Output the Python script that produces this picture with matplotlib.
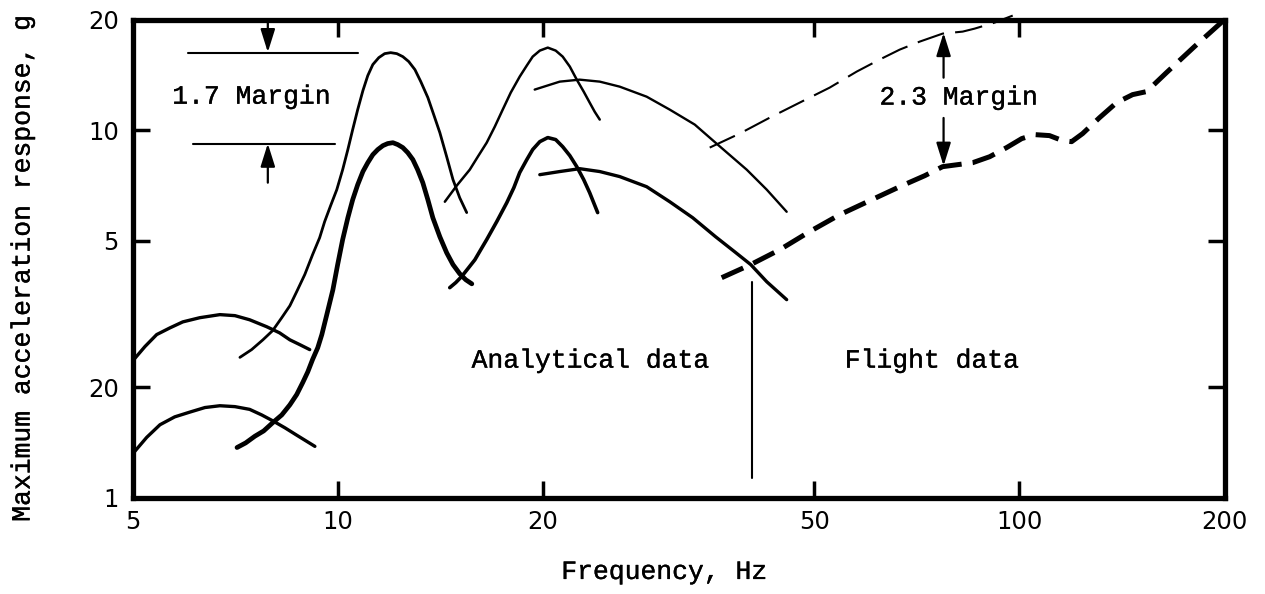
### Bibliotecas ###
import numpy as np
import matplotlib.pyplot as plt
import matplotlib.patheffects as pe

plt.rcParams['lines.scale_dashes'] = False
plt.rcParams['lines.solid_joinstyle'] = 'round'
plt.rcParams['lines.solid_capstyle'] = 'round'

### Dados: frequencia (Hz) e resposta maxima (g) ###
# arcos a esquerda (5-9 Hz)
arco_sup_x = [5.02, 5.21, 5.42, 5.67, 5.92, 6.27, 6.71, 7.06, 7.42, 7.86, 8.21, 8.50, 8.79, 9.09]
arco_sup_y = [2.38, 2.58, 2.78, 2.90, 3.01, 3.09, 3.15, 3.13, 3.05, 2.92, 2.81, 2.69, 2.61, 2.53]
arco_inf_x = [5.02, 5.24, 5.48, 5.76, 6.06, 6.38, 6.71, 7.06, 7.42, 7.73, 8.02, 8.36, 8.70, 9.25]
arco_inf_y = [1.33, 1.46, 1.58, 1.66, 1.71, 1.76, 1.78, 1.77, 1.74, 1.68, 1.62, 1.55, 1.48, 1.38]

# primeiro pico (~12 Hz)
pico1_sup_x = [7.18, 7.47, 7.76, 8.02, 8.27, 8.50, 8.70, 8.94, 9.18, 9.40, 9.56, 9.76, 9.96,
               10.16, 10.34, 10.51, 10.69, 10.88, 11.06, 11.25, 11.48, 11.71, 11.95, 12.20,
               12.45, 12.70, 12.97, 13.23, 13.55, 13.82, 14.11, 14.44, 14.75, 15.09, 15.45]
pico1_sup_y = [2.41, 2.53, 2.69, 2.85, 3.09, 3.33, 3.64, 4.05, 4.59, 5.10, 5.64, 6.25, 6.89,
               7.81, 8.86, 10.04, 11.38, 12.82, 14.08, 15.09, 15.76, 16.16, 16.26, 16.16,
               15.86, 15.38, 14.62, 13.56, 12.27, 11.03, 9.85, 8.47, 7.34, 6.55, 5.97]
pico1_inf_x = [7.11, 7.32, 7.55, 7.78, 8.02, 8.27, 8.50, 8.70, 8.88, 9.03, 9.18, 9.34, 9.47,
               9.63, 9.83, 9.99, 10.16, 10.34, 10.51, 10.69, 10.88, 11.06, 11.25, 11.44,
               11.64, 11.83, 12.04, 12.24, 12.45, 12.66, 12.88, 13.09, 13.32, 13.55, 13.78,
               14.11, 14.44, 14.75, 15.09, 15.40, 15.72]
pico1_inf_y = [1.37, 1.41, 1.47, 1.52, 1.60, 1.68, 1.79, 1.91, 2.06, 2.20, 2.38, 2.56, 2.78,
               3.15, 3.68, 4.31, 5.04, 5.78, 6.47, 7.11, 7.72, 8.16, 8.58, 8.86,
               9.08, 9.20, 9.25, 9.14, 8.97, 8.69, 8.32, 7.81, 7.20, 6.47, 5.78,
               5.13, 4.64, 4.31, 4.07, 3.92, 3.82]

# segundo pico (~20 Hz)
pico2_sup_x = [14.35, 14.94, 15.61, 16.04, 16.53, 16.99, 17.45, 17.93, 18.48, 18.93, 19.31,
               19.78, 20.32, 20.87, 21.37, 21.89, 22.41, 22.94, 23.41, 23.81, 24.22]
pico2_sup_y = [6.39, 7.07, 7.81, 8.47, 9.25, 10.23, 11.38, 12.66, 13.99, 15.00, 15.86,
               16.47, 16.78, 16.47, 15.86, 14.90, 13.73, 12.74, 11.89, 11.23, 10.69]
pico2_inf_x = [14.59, 14.89, 15.19, 15.51, 15.88, 16.20, 16.53, 17.10, 17.69, 18.12, 18.48,
               18.93, 19.31, 19.78, 20.32, 20.87, 21.37, 21.89, 22.41, 22.94, 23.41, 24.05]
pico2_inf_y = [3.73, 3.85, 4.00, 4.20, 4.44, 4.73, 5.04, 5.64, 6.35, 6.98, 7.67,
               8.32, 8.86, 9.31, 9.55, 9.43, 9.02, 8.53, 7.96, 7.34, 6.76, 5.97]

# arcos largos (20-45 Hz)
largo_sup_x = [19.44, 21.16, 22.63, 24.22, 25.91, 28.38, 30.68, 33.39, 36.08, 39.80, 42.59, 45.55]
largo_sup_y = [12.90, 13.56, 13.73, 13.56, 13.14, 12.34, 11.38, 10.36, 9.14, 7.81, 6.89, 6.00]
largo_inf_x = [19.78, 21.16, 22.63, 24.22, 25.91, 28.38, 30.68, 33.16, 35.83, 38.21, 40.34, 42.59, 45.55]
largo_inf_y = [7.57, 7.72, 7.86, 7.72, 7.48, 7.02, 6.39, 5.78, 5.13, 4.67, 4.31, 3.87, 3.46]

# dados de voo (tracejado) e envelope com margem
voo_margem_x = [35.12, 38.85, 43.02, 47.60, 52.67, 57.71, 62.36, 66.73, 71.38,
                77.15, 82.55, 85.95, 92.0, 97.77]
voo_margem_y = [8.97, 9.79, 10.82, 11.89, 13.06, 14.44, 15.57, 16.57, 17.42,
                18.32, 18.55, 18.90, 19.63, 20.51]
voo_x = [36.57, 40.34, 44.49, 49.23, 54.48, 60.29, 66.73, 72.60, 77.15, 81.16, 85.39,
         90.43, 95.78, 100.8, 105.3, 110.7, 115.7, 119.3, 123.8, 131.1, 138.9, 146.6,
         153.7, 164.4, 180.7, 200.0]
voo_y = [3.97, 4.31, 4.73, 5.30, 5.89, 6.43, 7.02, 7.52, 7.96, 8.06, 8.16,
         8.47, 8.97, 9.49, 9.73, 9.67, 9.37, 9.31, 9.79, 10.82, 11.89, 12.50,
         12.74, 14.35, 16.89, 20.0]

### Eixos ###
xticks = [5, 10, 20, 50, 100, 200]
xtick_labels = ['5', '10', '20', '50', '100', '200']
yticks = [1, 2, 5, 10, 20]
ytick_labels = ['1', '20', '5', '10', '20']

fonte = 'Liberation Mono'
fsize = 19
grosso = [pe.withStroke(linewidth=0.25, foreground='black')]

### Figura ###
fig = plt.figure(figsize=(12.65, 5.94), dpi=100)
ax = fig.add_axes([0.105, 0.162, 0.863, 0.805])
ax.set_xscale('log')
ax.set_yscale('log')
ax.set_xlim(5, 200)
ax.set_ylim(1, 20)

preto = 'black'
ax.plot(arco_sup_x, arco_sup_y, color=preto, lw=2.4)
ax.plot(arco_inf_x, arco_inf_y, color=preto, lw=2.4)
ax.plot(pico1_sup_x, pico1_sup_y, color=preto, lw=2.0)
ax.plot(pico1_inf_x, pico1_inf_y, color=preto, lw=3.4)
ax.plot(pico2_sup_x, pico2_sup_y, color=preto, lw=1.8)
ax.plot(pico2_inf_x, pico2_inf_y, color=preto, lw=2.6)
ax.plot(largo_sup_x, largo_sup_y, color=preto, lw=1.7)
ax.plot(largo_inf_x, largo_inf_y, color=preto, lw=2.4)
ax.plot(voo_margem_x, voo_margem_y, color=preto, lw=1.5, ls=(0, (20, 8)), clip_on=False)
ax.plot(voo_x, voo_y, color=preto, lw=3.6, ls=(0, (17, 8)))

### Linha divisoria entre dados analiticos e de voo ###
ax.plot([40.48, 40.48], [3.87, 1.13], color=preto, lw=1.5)

### Margens ###
seta = dict(arrowstyle='-|>,head_length=0.7,head_width=0.22', color=preto,
            lw=1.6, mutation_scale=20, shrinkA=0, shrinkB=0)
ax.plot([6.02, 10.69], [16.26, 16.26], color=preto, lw=1.5)
ax.plot([6.12, 9.89], [9.2, 9.2], color=preto, lw=1.5)
ax.annotate('', xy=(7.89, 16.3), xytext=(7.89, 19.6), arrowprops=seta)
ax.annotate('', xy=(7.89, 9.2), xytext=(7.89, 7.2), arrowprops=seta)
ax.annotate('', xy=(77.4, 18.4), xytext=(77.4, 13.9), arrowprops=seta)
ax.annotate('', xy=(77.4, 8.0), xytext=(77.4, 10.8), arrowprops=seta)

ax.text(7.47, 12.34, '1.7 Margin', fontfamily=fonte, fontsize=fsize,
        ha='center', va='center', path_effects=grosso)
ax.text(81.5, 12.27, '2.3 Margin', fontfamily=fonte, fontsize=fsize,
        ha='center', va='center', path_effects=grosso)
ax.text(23.49, 2.26, 'Analytical data', fontfamily=fonte, fontsize=fsize,
        ha='center', va='baseline', path_effects=grosso)
ax.text(74.45, 2.26, 'Flight data', fontfamily=fonte, fontsize=fsize,
        ha='center', va='baseline', path_effects=grosso)

### Formata eixos ###
ax.xaxis.set_minor_locator(plt.NullLocator())
ax.yaxis.set_minor_locator(plt.NullLocator())
ax.set_xticks(xticks)
ax.set_xticklabels(xtick_labels, fontfamily='DejaVu Sans', fontsize=17.5)
ax.set_yticks(yticks)
ax.set_yticklabels(ytick_labels, fontfamily='DejaVu Sans', fontsize=17.5)
ax.tick_params(direction='in', length=12, width=2.5, top=True, right=True)
ax.tick_params(axis='x', pad=9)
ax.tick_params(axis='y', pad=10)
for lado in ax.spines.values():
    lado.set_linewidth(3.8)

ax.set_xlabel('Frequency, Hz', fontfamily=fonte, fontsize=fsize, path_effects=grosso)
ax.set_ylabel('Maximum acceleration response, g', fontfamily=fonte, fontsize=fsize,
              path_effects=grosso)
ax.xaxis.set_label_coords(0.487, -0.13)
ax.yaxis.set_label_coords(-0.09, 0.481)

### Salvar figura ###
fig.savefig('out.png', dpi=100)
